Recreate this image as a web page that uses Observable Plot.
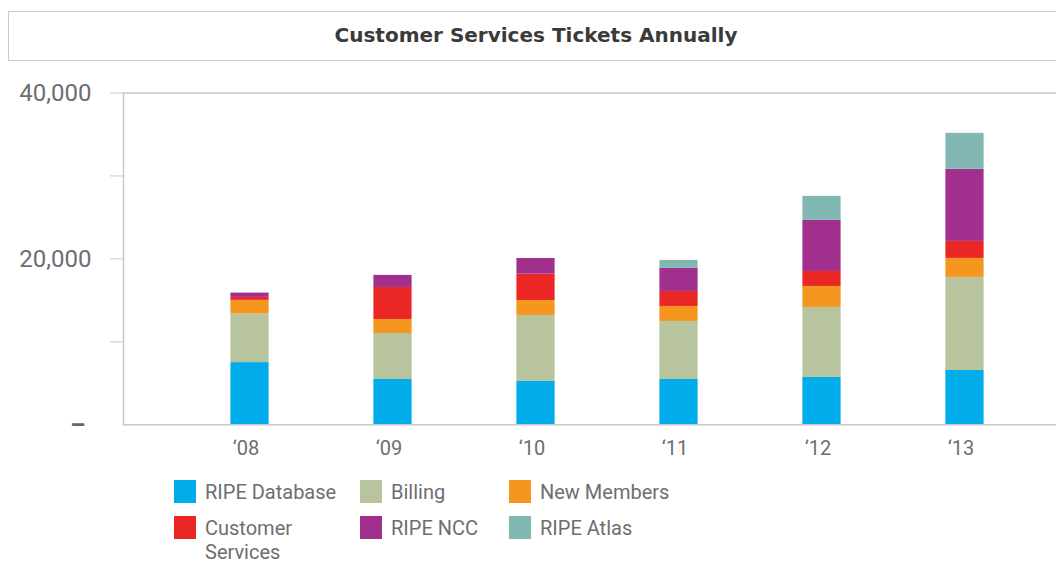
<!DOCTYPE html>
<html>
<head>
<meta charset="utf-8">
<script src="https://cdn.jsdelivr.net/npm/d3@7"></script>
<script src="https://cdn.jsdelivr.net/npm/@observablehq/plot@0.6"></script>
<style>
  html, body { margin: 0; padding: 0; background: #fff; }
  body { width: 1056px; height: 561px; position: relative; overflow: hidden; font-family: Roboto, "Noto Sans", sans-serif; }
  #title {
    position: absolute; left: 8px; top: 11px; width: 1070px; height: 50px; box-sizing: border-box;
    border: 1.5px solid #c9c9c9; text-align: center; line-height: 46px;
    font-family: "DejaVu Sans", sans-serif; font-weight: 700; font-size: 20px; color: #3a3a3a;
    padding-right: 14px;
  }
  #chart { position: absolute; left: 0; top: 0; }
  #legend { position: absolute; left: 174px; top: 480px; }
  .item { position: absolute; display: flex; align-items: flex-start; font-size: 20px; color: #6d6e71; line-height: 24px; white-space: nowrap; }
  .sw { width: 22px; height: 23px; margin-right: 9px; flex: none; }
</style>
</head>
<body>
<div id="title">Customer Services Tickets Annually</div>
<div id="chart"></div>
<div id="legend"></div>
<script>
const years = ["‘08", "‘09", "‘10", "‘11", "‘12", "‘13"];
const seriesNames = ["RIPE Database", "Billing", "New Members", "Customer Services", "RIPE NCC", "RIPE Atlas"];
const seriesColors = ["#00adea", "#b7c49d", "#f5961e", "#ea2724", "#a12f8e", "#82b8b3"];
const ripeDatabase     = [7500, 5460, 5220, 5460, 5710, 6550];
const billing          = [5850, 5550, 7960, 7000, 8440, 11220];
const newMembers       = [1650, 1690, 1810, 1810, 2530, 2290];
const customerServices = [360, 3860, 3170, 1810, 1810, 2050];
const ripeNcc          = [520, 1450, 1890, 2780, 6150, 8690];
const ripeAtlas        = [0, 0, 0, 960, 2900, 4340];
const yTicks = [0, 10000, 20000, 30000, 40000];
const yTickLabels = ["–", "", "20,000", "", "40,000"];

const seriesValues = [ripeDatabase, billing, newMembers, customerServices, ripeNcc, ripeAtlas];
const data = [];
seriesNames.forEach((s, i) => years.forEach((y, j) => data.push({year: y, series: s, value: seriesValues[i][j]})));

const lineColor = "#c9c9c9";
const textColor = "#6d6e71";

const plot = Plot.plot({
  width: 1056,
  height: 470,
  marginLeft: 123,
  marginRight: 0,
  marginTop: 92.5,
  marginBottom: 45.7,
  style: { fontFamily: "Roboto, sans-serif", overflow: "visible", background: "transparent" },
  x: { type: "band", domain: years, range: [175.4, 1038.4], padding: 0 },
  y: { domain: [0, 40000] },
  color: { domain: seriesNames, range: seriesColors },
  marks: [
    Plot.barY(data, Plot.stackY({ order: seriesNames, x: "year", y: "value", fill: "series", insetLeft: 52.4, insetRight: 52.4 })),
    Plot.ruleY([0, 40000], { stroke: lineColor, strokeWidth: 1.5 }),
    Plot.frame({ anchor: "left", stroke: lineColor, strokeWidth: 1.5 }),
    Plot.axisY({ ticks: yTicks.slice(1), tickSize: 13, tickPadding: 19, stroke: lineColor, strokeOpacity: 1,
      tickFormat: d => yTickLabels[yTicks.indexOf(d)], fontSize: 24, fill: textColor, label: null }),
    Plot.axisY({ ticks: [0], tickSize: 0, tickPadding: 38, tickFormat: () => yTickLabels[0],
      fontSize: 24, fontWeight: 700, fill: "#666", label: null, dy: 1 }),
    Plot.axisX({ tickSize: 0, tickPadding: 15.5, fontSize: 20, fill: textColor, label: null, dx: -4 })
  ]
});
document.getElementById("chart").appendChild(plot);

// legend
const legend = document.getElementById("legend");
const colX = [0, 186, 335];
const rowY = [0, 36];
const legendLabels = ["RIPE Database", "Billing", "New Members", "Customer<br>Services", "RIPE NCC", "RIPE Atlas"];
seriesNames.forEach((s, i) => {
  const el = document.createElement("div");
  el.className = "item";
  el.style.left = colX[i % 3] + "px";
  el.style.top = rowY[Math.floor(i / 3)] + "px";
  el.innerHTML = `<div class="sw" style="background:${seriesColors[i]}"></div><div>${legendLabels[i]}</div>`;
  legend.appendChild(el);
});
</script>
</body>
</html>
